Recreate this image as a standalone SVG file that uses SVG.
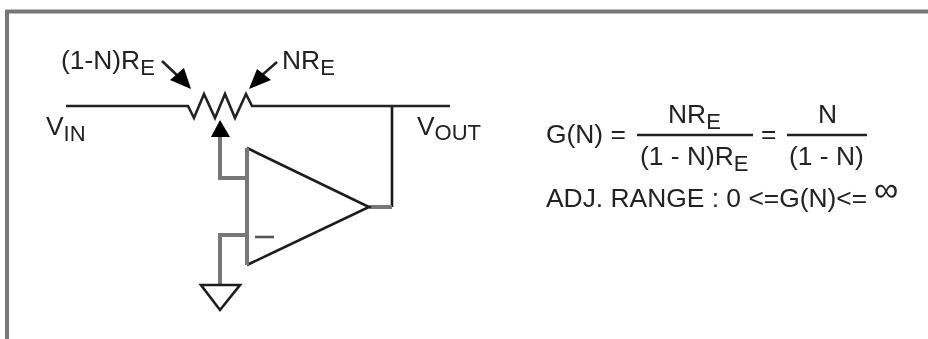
<svg xmlns="http://www.w3.org/2000/svg" width="928" height="339" viewBox="0 0 928 339">
<style>
.t{font-family:"Liberation Sans",Arial,sans-serif;font-size:26.400px;fill:#222}
.s{font-size:22px}
.w{fill:none;stroke:#222;stroke-width:2.600}
.g{fill:none;stroke:#777;stroke-width:4}
.d{fill:none;stroke:#1c1c1c;stroke-width:2.600}
.h{fill:#000;stroke:none}
</style>
<defs><filter id="b" x="-5%" y="-5%" width="110%" height="110%"><feGaussianBlur stdDeviation="0.7"/></filter></defs>
<g filter="url(#b)">
<rect width="928" height="339" fill="#fff"/>
<g id="frame"><path d="M928 11.500H7V339" fill="none" stroke="#777" stroke-width="4"/></g>
<g id="connectors">
<path class="w" d="M66 106H188L194 118L204 94L215 118L225 94L235 118L246 94L252 106H450"/>
<path class="d" d="M392 106V207"/>
<path class="g" d="M369 207H392"/>
<path class="g" d="M220 137V178H247"/>
<path class="g" d="M247 235H220V285"/>
<path class="w" d="M162 61L180 78"/>
<path class="w" d="M277 62L261 76"/>
</g>
<g id="wiper-arrow"><polygon class="h" points="220,120 211,137 230,137"/></g>
<g id="arrow-left"><polygon class="h" points="191,89 170,80 184,68"/></g>
<g id="arrow-right"><polygon class="h" points="249,89 271,80 257,69"/></g>
<g id="opamp">
<path class="d" d="M247 148L369 207L247 265"/>
<path class="g" d="M247 148V265"/>
<path d="M255 237H274" fill="none" stroke="#555" stroke-width="2.600"/>
</g>
<g id="ground"><polygon class="d" points="201,285 240,285 220,310"/></g>
<g id="label-1-n"><text class="t" x="61" y="69">(1-N)R<tspan class="s" dy="6">E</tspan></text></g>
<g id="label-nre"><text class="t" x="282" y="69">NR<tspan class="s" dy="6">E</tspan></text></g>
<g id="label-vin"><text class="t" x="46" y="135">V<tspan class="s" dy="6">IN</tspan></text></g>
<g id="label-vout"><text class="t" x="417" y="135">V<tspan class="s" dy="5">OUT</tspan></text></g>
<g id="formula">
<text class="t" x="546" y="143">G(N) =</text>
<text class="t" x="668" y="123">NR<tspan class="s" dy="6">E</tspan></text>
<path class="w" d="M637 135H753"/>
<text class="t" x="640" y="165">(1 - N)R<tspan class="s" dy="6">E</tspan></text>
<text class="t" x="761" y="143">=</text>
<text class="t" x="818" y="123">N</text>
<path class="w" d="M787 135H867"/>
<text class="t" x="789" y="165">(1 - N)</text>
<text class="t" x="546" y="207">ADJ. RANGE : 0 &lt;=G(N)&lt;=</text>
<text class="t" x="874" y="201" style="font-size:34px">∞</text>
</g>
</g>
</svg>
